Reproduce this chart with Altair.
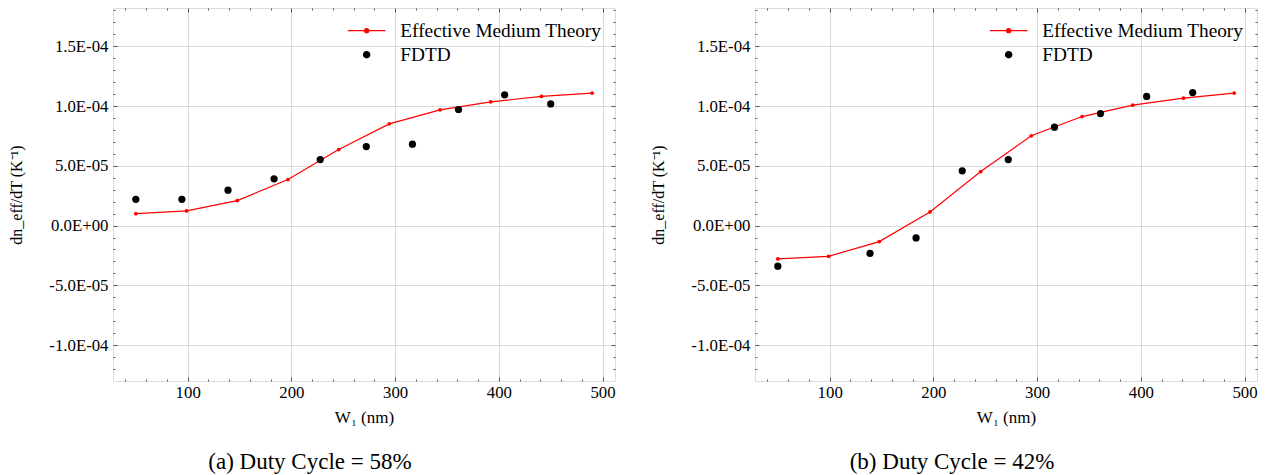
import altair as alt
import pandas as pd

# ---- data ----
emt_x = [50.0, 98.9, 147.8, 196.7, 245.6, 294.4, 343.3, 392.2, 441.1, 490.0]
emt_a = [1.00e-5, 1.23e-5, 2.09e-5, 3.85e-5, 6.36e-5, 8.51e-5, 9.68e-5, 1.035e-4, 1.08e-4, 1.108e-4]
emt_b = [-2.79e-5, -2.57e-5, -1.34e-5, 1.14e-5, 4.52e-5, 7.51e-5, 9.12e-5, 1.007e-4, 1.066e-4, 1.108e-4]

fdtd_x_a = [50.0, 94.4, 138.9, 183.3, 227.8, 272.2, 316.7, 361.1, 405.6, 450.0]
fdtd_a = [2.20e-5, 2.20e-5, 2.96e-5, 3.91e-5, 5.52e-5, 6.61e-5, 6.81e-5, 9.71e-5, 1.094e-4, 1.018e-4]
fdtd_x_b = [50.0, 138.9, 183.3, 227.8, 272.2, 316.7, 361.1, 405.6, 450.0]
fdtd_b = [-3.40e-5, -2.32e-5, -1.03e-5, 4.58e-5, 5.52e-5, 8.23e-5, 9.37e-5, 1.08e-4, 1.113e-4]

series_names = ["Effective Medium Theory", "FDTD"]
captions = ["(a) Duty Cycle = 58%", "(b) Duty Cycle = 42%"]

x_major = [100, 200, 300, 400, 500]
y_major = [-1.0e-4, -5.0e-5, 0.0, 5.0e-5, 1.0e-4, 1.5e-4]
x_minor = [v for v in range(40, 520, 20) if v % 100 != 0]
y_minor = [k * 1e-5 for k in range(-12, 19) if k % 5 != 0]

SERIF = "Liberation Serif"
FRAME = "#333333"
GRID = "#cfcfcf"
MAJ = 4
MIN = 2

XS = alt.Scale(domain=[28, 512], nice=False, zero=False)
YS = alt.Scale(domain=[-1.3e-4, 1.82e-4], nice=False, zero=False)

ylab = ("replace(replace(replace(upper(format(datum.value, '.1e')), '\u2212', '-'), 'E-', 'E-0'), 'E+', 'E+0')")


def tick_axis(orient, values, size):
    return alt.Axis(orient=orient, values=values, labels=False, grid=False, domain=False,
                    ticks=True, tickSize=size, offset=-size, tickColor=FRAME, tickWidth=0.8,
                    title=None)


def panel(emt_y, fx, fy, caption):
    emt = pd.DataFrame({"x": emt_x, "y": emt_y, "series": series_names[0]})
    fd = pd.DataFrame({"x": fx, "y": fy, "series": series_names[1]})
    legend_df = pd.concat([emt, fd])

    x_main = alt.Axis(orient="bottom", values=x_major, grid=True, gridColor=GRID, gridWidth=0.8,
                      domain=False, ticks=True, tickSize=MAJ, offset=-MAJ, tickColor=FRAME,
                      tickWidth=0.8, labelFont=SERIF, labelFontSize=16.8, labelColor="black",
                      labelPadding=3, labelFlush=False, labelOverlap=False,
                      title="W\u2081 (nm)", titleFont=SERIF, titleFontSize=17,
                      titleFontWeight="normal", titleColor="black", titlePadding=9)
    y_main = alt.Axis(orient="left", values=y_major, grid=True, gridColor=GRID, gridWidth=0.8,
                      domain=False, ticks=True, tickSize=MAJ, offset=-MAJ, tickColor=FRAME,
                      tickWidth=0.8, labelFont=SERIF, labelFontSize=16.8, labelColor="black",
                      labelPadding=5, labelFlush=False, labelOverlap=False, labelExpr=ylab,
                      title="dn_eff/dT (K\u207b\u00b9)", titleFont=SERIF, titleFontSize=16,
                      titleFontWeight="normal", titleColor="black", titlePadding=24)

    line = alt.Chart(emt).mark_line(color="#ff0000", strokeWidth=1.2).encode(
        x=alt.X("x:Q", scale=XS, axis=x_main),
        y=alt.Y("y:Q", scale=YS, axis=y_main),
    )
    emt_pts = alt.Chart(emt).mark_circle(color="#ff0000", size=14, opacity=1).encode(
        x=alt.X("x:Q", scale=XS, axis=tick_axis("bottom", x_minor, MIN)),
        y=alt.Y("y:Q", scale=YS, axis=tick_axis("left", y_minor, MIN)),
    )
    fd_pts = alt.Chart(fd).mark_circle(color="black", size=52, opacity=1).encode(
        x=alt.X("x:Q", scale=XS, axis=tick_axis("top", x_major, MAJ)),
        y=alt.Y("y:Q", scale=YS, axis=tick_axis("right", y_major, MAJ)),
    )

    line_dot = "M-2.5,0H2.5M-0.28,0A0.28,0.28 0 1,0 0.28,0A0.28,0.28 0 1,0 -0.28,0"
    big_dot = "M-0.42,0A0.42,0.42 0 1,0 0.42,0A0.42,0.42 0 1,0 -0.42,0"
    leg = alt.Legend(orient="top-right", title=None, labelFont=SERIF, labelFontSize=19.3,
                     labelColor="black", labelLimit=0, symbolSize=225, symbolStrokeWidth=1.2,
                     labelOffset=24, rowPadding=4, offset=13, padding=0)
    dom = series_names
    host = alt.Chart(legend_df).transform_filter("datum.x < 0").mark_point(
        filled=True, opacity=1).encode(
        x=alt.X("x:Q", scale=XS, axis=tick_axis("top", x_minor, MIN)),
        y=alt.Y("y:Q", scale=YS, axis=tick_axis("right", y_minor, MIN)),
        shape=alt.Shape("series:N", scale=alt.Scale(domain=dom, range=[line_dot, big_dot]), legend=leg),
        fill=alt.Fill("series:N", scale=alt.Scale(domain=dom, range=["#ff0000", "black"]), legend=leg),
        stroke=alt.Stroke("series:N", scale=alt.Scale(domain=dom, range=["#ff0000", "black"]), legend=leg),
    )

    return alt.layer(line, emt_pts, fd_pts, host).resolve_axis(
        x="independent", y="independent"
    ).properties(
        width=502, height=373,
        title=alt.TitleParams(caption, orient="bottom", anchor="middle", font=SERIF,
                              fontSize=23, fontWeight="normal", color="black", offset=25,
                              dx=-54),
    )


left = panel(emt_a, fdtd_x_a, fdtd_a, captions[0])
right = panel(emt_b, fdtd_x_b, fdtd_b, captions[1])

chart = alt.hconcat(left, right, spacing=34).resolve_scale(
    shape="independent", fill="independent", stroke="independent"
).properties(
    padding={"left": 8, "top": 7, "right": 5, "bottom": 2}
).configure_view(stroke=FRAME, strokeWidth=1).configure(background="white")

chart.save("out.html", embed_options={"renderer": "svg", "actions": False})
